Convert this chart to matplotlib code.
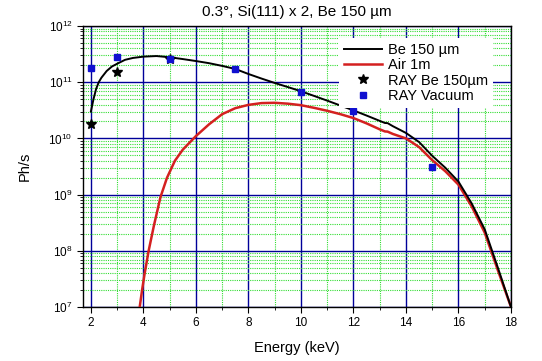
import numpy as np
import matplotlib
matplotlib.use("Agg")
import matplotlib.pyplot as plt
from matplotlib.ticker import LogLocator, MultipleLocator

plt.rcParams['font.family'] = ['Liberation Sans', 'DejaVu Sans']

# Be 150 um curve
be_energy = [2.0, 2.1, 2.2, 2.3, 2.4, 2.6, 2.8, 3.0, 3.3, 3.6, 4.0, 4.5, 5.0, 5.5, 6.0,
             6.5, 7.0, 7.5, 8.0, 8.5, 9.0, 9.5, 10.0, 10.5, 11.0, 11.5, 12.0,
             12.5, 13.0, 13.2, 13.3, 13.5, 14.0, 14.5, 15.0, 15.5, 16.0, 16.5, 17.0, 17.5, 18.0]
be_flux = [3.0e10, 5.0e10, 7.6e10, 1.0e11, 1.2e11, 1.58e11, 1.9e11, 2.13e11, 2.5e11, 2.7e11,
           2.85e11, 2.92e11, 2.78e11, 2.58e11, 2.38e11, 2.18e11, 1.95e11, 1.72e11,
           1.4e11, 1.16e11, 9.7e10, 8.2e10, 6.9e10, 5.7e10, 4.7e10, 3.85e10, 3.15e10,
           2.55e10, 2.05e10, 1.88e10, 1.87e10, 1.65e10, 1.25e10, 8.6e9, 4.9e9, 3.0e9,
           1.7e9, 7.0e8, 2.4e8, 5.0e7, 1.0e7]

# Air 1m curve
air_energy = [3.86, 3.95, 4.05, 4.2, 4.4, 4.65, 4.9, 5.2, 5.5, 6.0, 6.5, 7.0, 7.5, 8.0,
              8.5, 9.0, 9.5, 10.0, 10.5, 11.0, 11.5, 12.0, 12.5, 13.0, 13.2, 13.3,
              13.5, 14.0, 14.5, 15.0, 15.5, 16.0, 16.5, 17.0, 17.5, 18.0]
air_flux = [1.0e7, 2.0e7, 4.0e7, 1.0e8, 2.8e8, 9.0e8, 2.0e9, 4.0e9, 6.3e9, 1.1e10,
            1.78e10, 2.7e10, 3.45e10, 3.95e10, 4.25e10, 4.3e10, 4.15e10, 3.9e10,
            3.5e10, 3.1e10, 2.7e10, 2.3e10, 1.85e10, 1.45e10, 1.33e10, 1.32e10,
            1.2e10, 1.0e10, 7.0e9, 4.1e9, 2.6e9, 1.5e9, 6.2e8, 2.1e8, 4.5e7, 1.0e7]

# RAY points
ray_be_energy = [2.0, 3.0, 5.0]
ray_be_flux = [1.78e10, 1.55e11, 2.6e11]
ray_vac_energy = [2.0, 3.0, 5.0, 7.5, 10.0, 12.0, 15.0]
ray_vac_flux = [1.78e11, 2.8e11, 2.6e11, 1.73e11, 6.8e10, 3.1e10, 3.1e9]

fig = plt.figure(figsize=(5.42, 3.61), dpi=100)
ax = fig.add_axes([83/542, 1-307/361, (511-83)/542, (307-26)/361])

ax.set_yscale('log')
ax.set_xlim(1.7, 18)
ax.set_ylim(1e7, 1e12)
ax.xaxis.set_major_locator(MultipleLocator(2))
ax.xaxis.set_minor_locator(MultipleLocator(1))
ax.yaxis.set_major_locator(LogLocator(base=10, numticks=10))
ax.yaxis.set_minor_locator(LogLocator(base=10, subs=np.arange(2, 10), numticks=20))

ax.set_axisbelow(True)
ax.grid(True, which='major', color='#000099', linestyle='-', linewidth=1.0)
ax.grid(True, which='minor', color='#33dd33', linestyle=(0, (1, 1)), linewidth=0.8)

ax.plot(be_energy, be_flux, color='black', linewidth=1.4, label='Be 150 µm', zorder=4)
ax.plot(air_energy, air_flux, color='#d42020', linewidth=1.8, label='Air 1m', zorder=3)
ax.plot(ray_be_energy, ray_be_flux, linestyle='none', marker='*', color='black',
        markersize=7, label='RAY Be 150µm', zorder=5)
ax.plot(ray_vac_energy, ray_vac_flux, linestyle='none', marker='s', color='#1010d0',
        markersize=4, label='RAY Vacuum', zorder=5)

ax.tick_params(axis='both', which='both', direction='out', labelsize=8.5, colors='black')
ax.tick_params(axis='both', which='major', length=4)
ax.tick_params(axis='both', which='minor', length=2.5)
for s in ax.spines.values():
    s.set_linewidth(1.0)
    s.set_color('black')

ax.set_xlabel('Energy (keV)', fontsize=10.5, labelpad=8)
ax.set_ylabel('Ph/s', fontsize=10.5, labelpad=12)
ax.set_title('0.3°, Si(111) x 2, Be 150 µm', fontsize=11, pad=7)

leg = ax.legend(loc='upper right', bbox_to_anchor=(0.975, 0.985), fontsize=10.5,
                frameon=True, fancybox=False, framealpha=1.0, edgecolor='none',
                handlelength=2.6, borderpad=0.35, labelspacing=0.1, handletextpad=0.4)

fig.savefig('out.png', dpi=100)
